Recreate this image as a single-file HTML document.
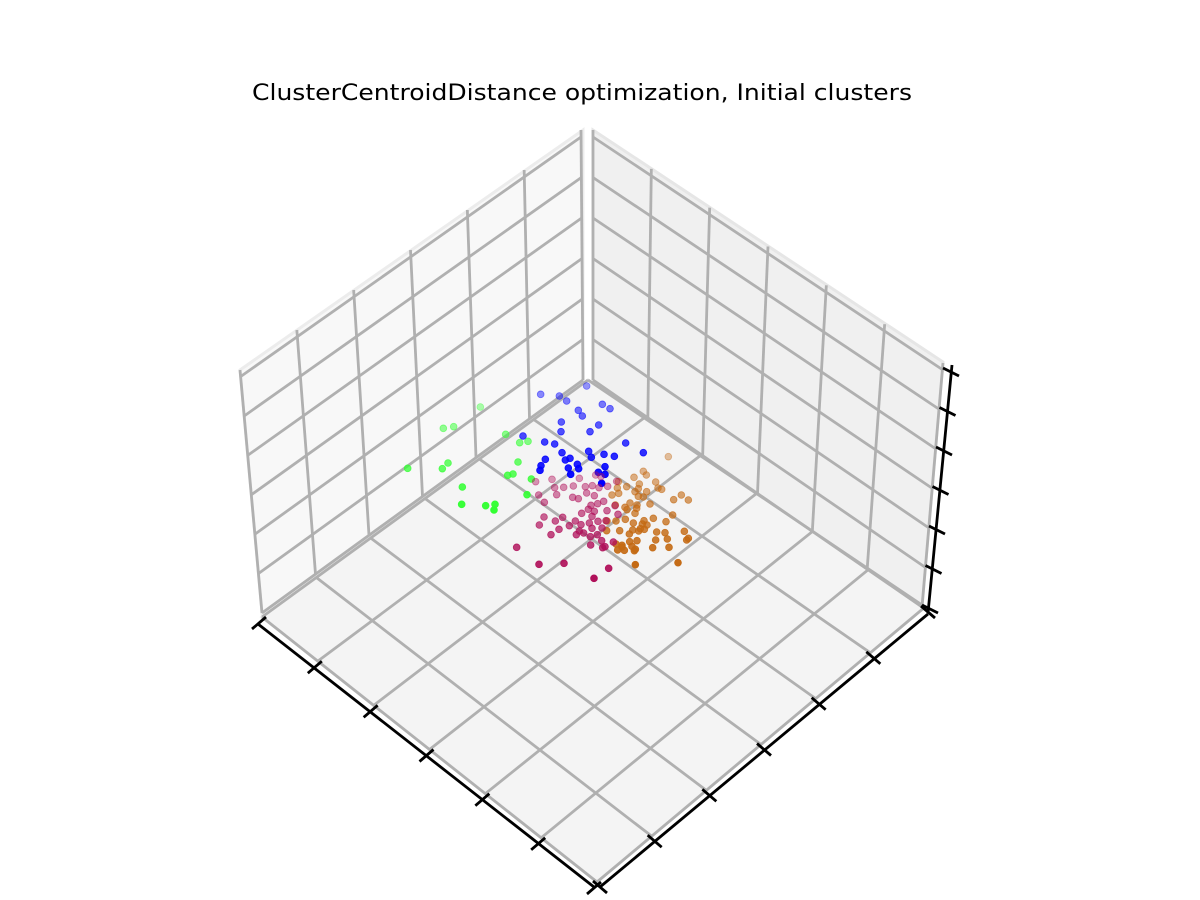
<!DOCTYPE html>
<html><head><meta charset="utf-8"><style>
html,body{margin:0;padding:0;background:#fff;}
svg{display:block;}
</style></head><body>
<svg id="chart" width="1200" height="900" viewBox="0 0 1200 900" xmlns="http://www.w3.org/2000/svg">
<rect x="0" y="0" width="1200" height="900" fill="#ffffff"/>
<text x="582" y="100" text-anchor="middle" font-family="DejaVu Sans, Liberation Sans, sans-serif" font-size="22.5" textLength="660" lengthAdjust="spacingAndGlyphs" fill="#000">ClusterCentroidDistance optimization, Initial clusters</text>
<g id="panes"></g>
<g id="grid"></g>
<g id="axes"></g>
<g id="points"></g>
</svg>
<script>
// ---- data (projected cluster coordinates) ----
const blueX=[59,45.2,50.8,53,63.7,66,56.5,57.7,51.4,62.6,51.3,60,39.9,46.4,49.4,70.7,51.6,59.6,64.2,67.3,76,60.4,46.6,52.6,54,56.2,45.3,53.5,56.6,45,62.5,64.5,54.2,64.5,63.5];
const blueY=[4.8,7.3,7.8,9.3,10.3,11.6,12.1,13.8,15.6,16.5,18.5,18.5,19.8,21.6,22.2,21.9,24.8,24.4,25.3,25.9,24.8,26.2,26.8,27,26.5,28.3,28.7,29.4,29.6,30.1,30.7,29,31.3,31.3,34];
const greenX=[27.1,16,19.1,34.7,38.9,41.4,5.3,15.7,17.4,38.4,35.3,36.9,42.4,21.7,41.1,21.5,28.7,31.5,31.2];
const greenY=[11.1,17.5,17,19.3,21.8,21.4,29.5,29.6,27.9,27.6,31.6,31.2,32.7,35.1,37.4,40.3,40.7,40.3,42];
const magX=[43.7,48.6,55,52.1,49.4,58.6,56.8,61.7,63.3,60.7,62.7,65.3,68,44.6,50,54.8,59,61.3,46.3,56.5,60.3,62.3,64.1,61.3,60.6,65.1,67.5,68.4,55.6,51.8,46.2,49.6,57.3,59.8,62.4,64.8,60.6,56.8,50.7,44.8,48.3,55.9,60.1,58.1,62.2,63.6,63.5,60.2,64.5,67,63.8,38,44.7,52.2,65.6,61.2,57.5,53.8,59.5];
const magY=[33.5,32.8,34.8,35.2,35.3,35,32.5,31.5,32,34.7,35.3,34.9,33.4,37.5,37.4,38.2,36.9,37.7,39.7,38.6,40.6,40.1,39.4,42.4,43.9,42.2,40.7,43.3,45.3,44.2,44.1,45.3,46.4,45.9,45.4,45.2,47.5,48.3,47.8,46.5,49.4,49.4,50,48.9,49.4,47.4,51.2,52.5,53,51.6,53.3,53.2,58.3,58,59.5,62.5,43,46.7,41.8];
const orX=[83.5,76,76.9,73.2,68.5,68.2,71,74.8,79.7,80.4,74.5,74.5,73.5,66.6,68.6,81.5,77,76,72,74.1,85.1,87.4,89.5,67.6,70.5,78,71.1,74,73.5,84.8,79,65.1,67.8,70.6,73,76.2,82.8,75.7,75.1,72.8,76.3,77.1,80,82.5,65,68.9,71.8,74.6,74.1,79.7,71.9,83.2,88.3,89.5,89,67.8,69.6,72.6,73.3,70.3,69.6,73.6,78.8,83.7,68.3,86.4,73.6];
const orY=[26,30.4,31.5,32.2,33.5,35.4,35,34.2,33.6,35.4,35.6,37.9,36.5,37.5,37,35.8,36.5,38.1,39.9,40.5,38.9,37.5,39,40.5,41.2,40.2,41.9,41.5,43,43.5,44.5,45.3,45.3,44.8,45.9,45.2,45.5,46.2,47.6,48,47.8,46.5,48.6,48.8,48.2,48.2,49.2,48.3,51.2,51,51.5,50.7,48.4,50.5,51,52.2,52.6,52.9,54.2,54.1,53.1,53.8,53.3,53.2,54,57.8,58.4];
const gridTicks=[0,1,2,3,4,5,6];

// ---- geometry ----
const NS='http://www.w3.org/2000/svg';
function bil(p00,p10,p01,p11,a,b){
  return [(1-a)*(1-b)*p00[0]+a*(1-b)*p10[0]+(1-a)*b*p01[0]+a*b*p11[0],
          (1-a)*(1-b)*p00[1]+a*(1-b)*p10[1]+(1-a)*b*p01[1]+a*b*p11[1]];
}
const F=[597,882],L=[262,617],R=[925,607],B=[588,380];
const L0=[262,613],Lt=[240,377],BL0=[583,380],BLt=[581,137];
const BR0=[593,380],BRt=[593,137],R0=[922,607],Rt=[943,370];
function mk(tag,attrs,parent){const e=document.createElementNS(NS,tag);for(const k in attrs)e.setAttribute(k,attrs[k]);parent.appendChild(e);return e;}
const panes=document.getElementById('panes'),grid=document.getElementById('grid'),axes=document.getElementById('axes'),pts=document.getElementById('points');
function poly(arr){return arr.map(p=>p[0]+','+p[1]).join(' ');}
let e;
e=mk('polygon',{points:poly([L0,BL0,[BL0[0],130],[Lt[0],370]]),fill:'#f8f8f8',stroke:'#ececec','stroke-width':3},panes);


e=mk('polygon',{points:poly([BR0,R0,[Rt[0],362],[BRt[0],130]]),fill:'#f0f0f0',stroke:'#e6e6e6','stroke-width':3},panes);


e=mk('polygon',{points:poly([F,R,B,L]),fill:'#f4f4f4',stroke:'#ececec','stroke-width':3},panes);


function line(p,q,parent,stroke,w,name){const l=mk('line',{x1:p[0],y1:p[1],x2:q[0],y2:q[1],stroke:stroke,'stroke-width':w,'stroke-linecap':'butt'},parent);


return l;}
const G='#b0b0b0';
const GW=2.8;
gridTicks.forEach(i=>{
  const f=i/6;
  line(bil(F,R,L,B,f,0),bil(F,R,L,B,f,1),grid,G,GW,'floor-grid-line');
  line(bil(F,R,L,B,0,f),bil(F,R,L,B,1,f),grid,G,GW,'floor-grid-line');
  const lb=bil(L0,BL0,Lt,BLt,f,0),lt=bil(L0,BL0,Lt,BLt,f,1);
  line(lb,[lt[0],lt[1]-7],grid,G,GW,'left-wall-grid-line');
  line(bil(L0,BL0,Lt,BLt,0,f),bil(L0,BL0,Lt,BLt,1,f),grid,G,GW,'left-wall-grid-line');
  const rb=bil(BR0,R0,BRt,Rt,f,0),rt=bil(BR0,R0,BRt,Rt,f,1);
  line(rb,[rt[0],rt[1]-7],grid,G,GW,'right-wall-grid-line');
  line(bil(BR0,R0,BRt,Rt,0,f),bil(BR0,R0,BRt,Rt,1,f),grid,G,GW,'right-wall-grid-line');
});
// black axes
const XA0=[258,624],XA1=[594,887],YA0=[600,887],YA1=[928,614],ZA0=[928,613],ZA1=[952,365];
line(XA0,XA1,axes,'#000',2.8,'x-axis-line');
line(YA0,YA1,axes,'#000',2.8,'y-axis-line');
line(ZA0,ZA1,axes,'#000',2.8,'z-axis-line');
gridTicks.forEach(i=>{
  const f=i/6;
  const p=bil(F,R,L,B,0,1-f);const px=[p[0]-3,p[1]+6];
  line([px[0]-7,px[1]+6],[px[0]+7,px[1]-6],axes,'#000',2.8,'x-tick');
  const q=bil(F,R,L,B,f,0);const qx=[q[0]+3,q[1]+5];
  line([qx[0]-7,qx[1]-6],[qx[0]+7,qx[1]+6],axes,'#000',2.8,'y-tick');
  const r=bil(BR0,R0,BRt,Rt,1,f);const rx=[r[0]+8,r[1]+2];
  line([rx[0]-8,rx[1]-4],[rx[0]+8,rx[1]+4],axes,'#000',2.8,'z-tick');
});
// scatter
function sx(v){return 390+v*10/3;}
function sy(v){return 370+v*10/3;}
function drawSeries(xs,ys,color,name){
  const mn=Math.min(...ys),mx=Math.max(...ys);
  xs.forEach((x,i)=>{
    const a=0.4+0.6*(ys[i]-mn)/((mx-mn)||1);
    const c=mk('circle',{cx:sx(x),cy:sy(ys[i]),r:3.4,fill:color,'fill-opacity':a,stroke:color,'stroke-opacity':a,'stroke-width':0.8},pts);
    
    
  });
}
drawSeries(greenX,greenY,'#33ff33','point-green-cluster');
drawSeries(blueX,blueY,'#0000ff','point-blue-cluster');
drawSeries(orX,orY,'#c46a14','point-orange-cluster');
drawSeries(magX,magY,'#b0105a','point-magenta-cluster');
</script>
</body></html>
